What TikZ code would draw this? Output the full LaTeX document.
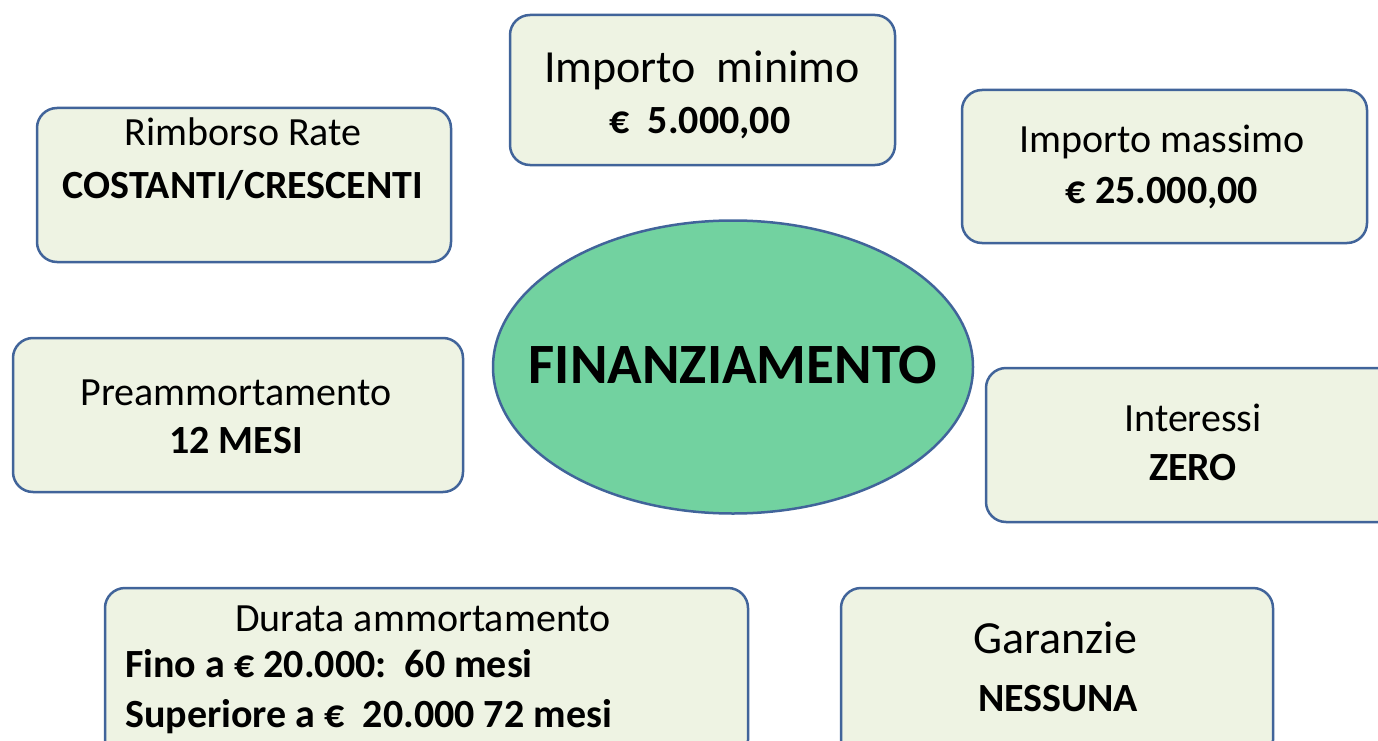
\documentclass[tikz,border=0pt]{standalone}
\usepackage{fontspec}
\setmainfont{Carlito}
\usepackage{tikz}
\usetikzlibrary{shapes.geometric}
\definecolor{boxline}{HTML}{41649A}
\definecolor{boxfill}{HTML}{EEF3E3}
\definecolor{ellfill}{HTML}{72D2A0}
\tikzset{
  infobox/.style={draw=boxline, fill=boxfill, line width=2.5pt,
    rounded corners=20pt, inner sep=0pt},
  regtxt/.style={anchor=base, inner sep=0pt, font=\fontsize{40}{48}\selectfont},
  bigtxt/.style={anchor=base, inner sep=0pt, font=\fontsize{46}{54}\selectfont},
  boldtxt/.style={anchor=base, inner sep=0pt, font=\fontsize{40}{48}\selectfont\bfseries},
}

\begin{document}
\begin{tikzpicture}[x=1pt, y=-1pt]

  \useasboundingbox (0,0) rectangle (1378,741); %% page size

  %% boxes
  \node[infobox, minimum width=385pt, minimum height=150pt] (minimo) at (702.5,90) {};
  \node[infobox, minimum width=414pt, minimum height=154pt] (rimborso) at (244,185) {};
  \node[infobox, minimum width=405pt, minimum height=153pt] (massimo) at (1164.5,166.5) {};
  \node[infobox, minimum width=450pt, minimum height=154pt] (preamm) at (238,415) {};
  \node[infobox, minimum width=414pt, minimum height=154pt] (interessi) at (1193,445) {};
  \node[infobox, minimum width=643pt, minimum height=172pt] (durata) at (426.5,674) {};
  \node[infobox, minimum width=432pt, minimum height=172pt] (garanzie) at (1057,674) {};

  \node[ellipse, draw=boxline, fill=ellfill, line width=2.5pt,
    minimum width=480pt, minimum height=293pt] (finanz) at (733,367) {};

  %% texts
  \node[bigtxt] (minimoA) at (702,83) {Importo\ \ minimo};
  \node[boldtxt] (minimoB) at (700,133) {€\ \ 5.000,00};

  \node[regtxt] (rimborsoA) at (243,146) {Rimborso Rate};
  \node[boldtxt] (rimborsoB) at (243,198) {COSTANTI/CRESCENTI};

  \node[regtxt] (massimoA) at (1162,153) {Importo massimo};
  \node[boldtxt] (massimoB) at (1162,203) {€ 25.000,00};

  \node[anchor=base, inner sep=0pt, font=\fontsize{57}{66}\selectfont\bfseries]
    (finanzT) at (733,383) {FINANZIAMENTO};

  \node[regtxt] (preammA) at (236,405) {Preammortamento};
  \node[boldtxt] (preammB) at (236,453) {12 MESI};

  \node[regtxt] (interessiA) at (1193,431) {Interessi};
  \node[boldtxt] (interessiB) at (1193,480) {ZERO};

  \node[regtxt] (durataA) at (423,631) {Durata ammortamento};
  \node[boldtxt, anchor=base west] (durataB) at (125,677) {Fino a € 20.000:\ \ 60 mesi};
  \node[boldtxt, anchor=base west] (durataC) at (125,727) {Superiore a €\ \ 20.000 72 mesi};

  \node[bigtxt] (garanzieA) at (1055,653) {Garanzie};
  \node[boldtxt] (garanzieB) at (1058,711) {NESSUNA};

\end{tikzpicture}
\end{document}
